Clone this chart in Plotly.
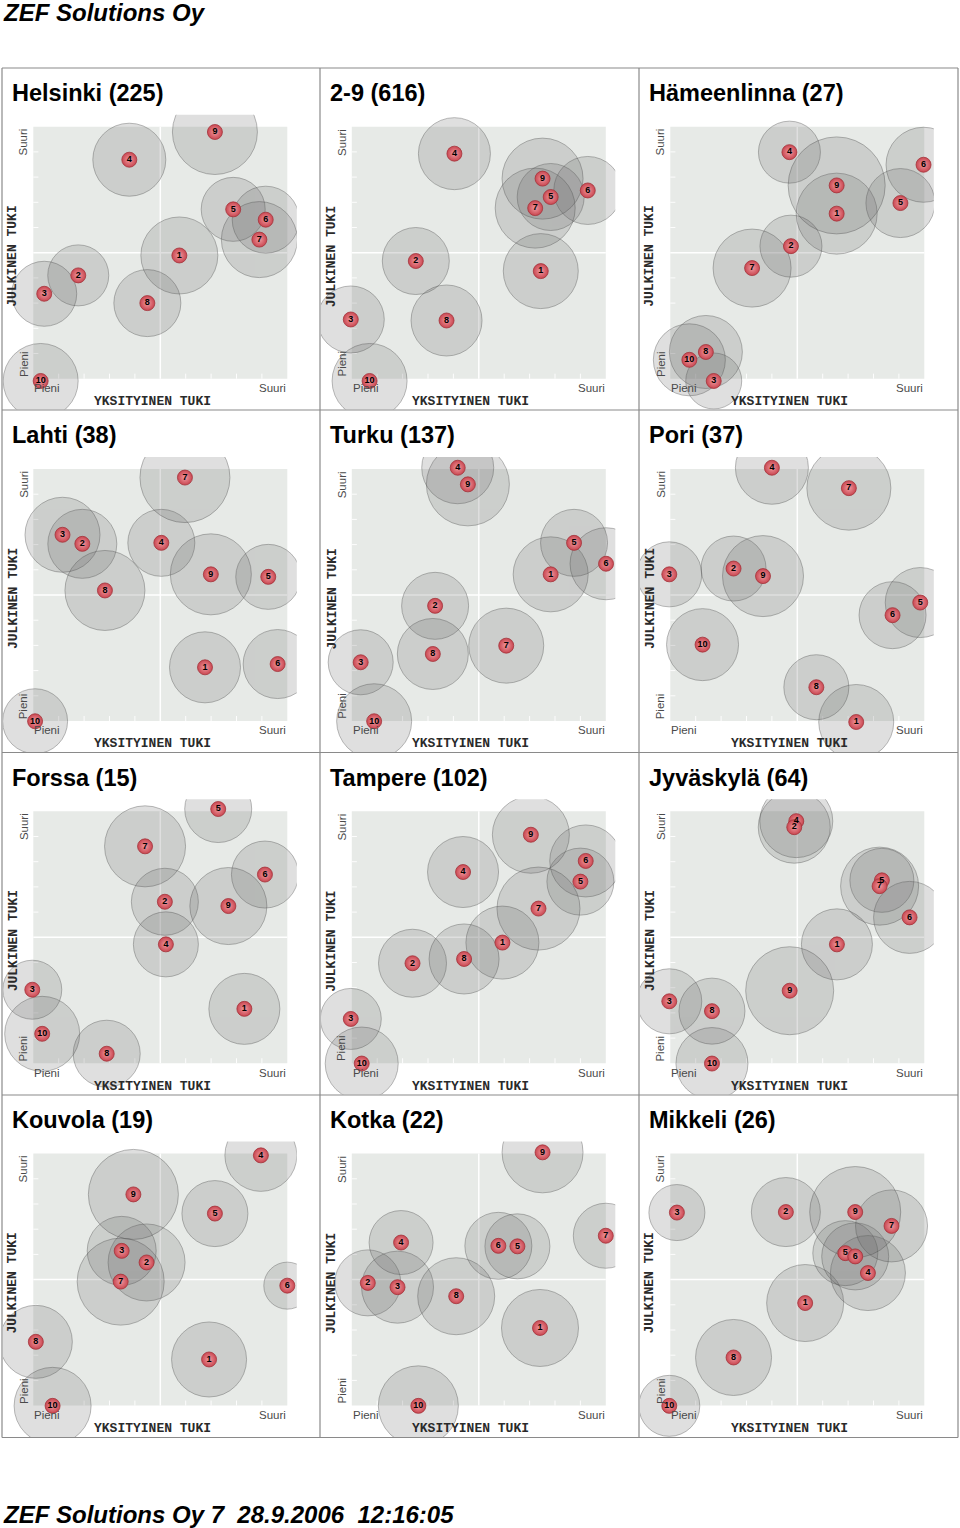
import plotly.graph_objects as go

W, H = 960, 1528

# ---------------- data ----------------
titles = ["Helsinki (225)", "2-9 (616)", "Hämeenlinna (27)",
          "Lahti (38)", "Turku (137)", "Pori (37)",
          "Forssa (15)", "Tampere (102)", "Jyväskylä (64)",
          "Kouvola (19)", "Kotka (22)", "Mikkeli (26)"]

ids = ["1", "2", "3", "4", "5", "6", "7", "8", "9", "10"]

# x = YKSITYINEN TUKI (0..10), y = JULKINEN TUKI (0..10), size = bubble size
helsinki_x = [5.75, 1.77, 0.43, 3.78, 7.87, 9.15, 8.90, 4.49, 7.15, 0.29]
helsinki_y = [4.89, 4.10, 3.37, 8.69, 6.72, 6.31, 5.52, 3.00, 9.79, -0.09]
helsinki_s = [77, 61, 65, 73, 64, 67, 76, 67, 85, 75]

k29_x = [7.44, 2.52, -0.04, 4.04, 7.83, 9.29, 7.22, 3.73, 7.51, 0.70]
k29_y = [4.27, 4.67, 2.35, 8.93, 7.21, 7.47, 6.77, 2.31, 7.94, -0.09]
k29_s = [75, 67, 67, 72, 67, 68, 80, 71, 81, 75]

hameenlinna_x = [6.55, 4.75, 1.71, 4.69, 9.06, 9.97, 3.22, 1.40, 6.55, 0.75]
hameenlinna_y = [6.55, 5.26, -0.09, 8.99, 6.97, 8.49, 4.39, 1.06, 7.67, 0.75]
hameenlinna_s = [81, 62, 56, 62, 69, 75, 78, 73, 97, 72]

lahti_x = [6.76, 1.93, 1.15, 5.04, 9.25, 9.62, 5.97, 2.82, 6.99, 0.07]
lahti_y = [2.13, 7.03, 7.39, 7.07, 5.72, 2.26, 9.66, 5.18, 5.82, -0.01]
lahti_s = [71, 69, 75, 67, 65, 69, 90, 80, 81, 65]

turku_x = [7.83, 3.28, 0.35, 4.17, 8.75, 10.01, 6.08, 3.19, 4.57, 0.88]
turku_y = [5.82, 4.57, 2.33, 10.05, 7.07, 6.24, 2.99, 2.66, 9.39, -0.01]
turku_s = [75, 67, 65, 72, 67, 72, 75, 71, 83, 75]

pori_x = [7.32, 2.49, -0.04, 4.00, 9.84, 8.75, 7.03, 5.75, 3.65, 1.27]
pori_y = [-0.04, 6.05, 5.82, 10.05, 4.70, 4.20, 9.24, 1.34, 5.75, 3.03]
pori_s = [75, 65, 65, 73, 70, 67, 84, 65, 81, 72]

forssa_x = [8.31, 5.18, -0.04, 5.22, 7.28, 9.12, 4.40, 2.89, 7.68, 0.35]
forssa_y = [2.16, 6.41, 2.92, 4.72, 10.09, 7.49, 8.61, 0.38, 6.24, 1.17]
forssa_s = [71, 67, 59, 65, 67, 67, 81, 67, 77, 75]

tampere_x = [5.93, 2.39, -0.04, 4.38, 9.00, 9.21, 7.35, 4.42, 7.05, 0.39]
tampere_y = [4.79, 3.97, 1.76, 7.59, 7.21, 8.03, 6.14, 4.14, 9.07, -0.01]
tampere_s = [73, 68, 61, 71, 67, 72, 83, 70, 77, 73]

jyvaskyla_x = [6.56, 4.88, -0.04, 4.96, 8.33, 9.42, 8.24, 1.64, 4.70, 1.64]
jyvaskyla_y = [4.72, 9.37, 2.46, 9.61, 7.26, 5.79, 7.03, 2.07, 2.88, -0.01]
jyvaskyla_s = [71, 72, 65, 73, 64, 72, 78, 66, 88, 72]

kouvola_x = [6.92, 4.46, 3.48, 8.96, 7.15, 10.00, 3.44, 0.10, 3.94, 0.76]
kouvola_y = [1.83, 5.68, 6.14, 9.93, 7.62, 4.76, 4.92, 2.53, 8.38, -0.01]
kouvola_s = [75, 77, 69, 72, 66, 47, 87, 73, 90, 77]

kotka_x = [7.41, 0.63, 1.80, 1.94, 6.52, 5.77, 10.00, 4.11, 7.51, 2.62]
kotka_y = [3.08, 4.87, 4.70, 6.47, 6.32, 6.34, 6.74, 4.34, 10.05, -0.01]
kotka_s = [77, 66, 72, 64, 65, 67, 65, 77, 81, 80]

mikkeli_x = [5.31, 4.55, 0.26, 7.78, 6.89, 7.28, 8.71, 2.49, 7.28, -0.04]
mikkeli_y = [4.07, 7.68, 7.66, 5.26, 6.05, 5.92, 7.13, 1.91, 7.68, -0.01]
mikkeli_s = [77, 69, 56, 75, 65, 67, 72, 76, 91, 61]

panels_x = [helsinki_x, k29_x, hameenlinna_x, lahti_x, turku_x, pori_x,
            forssa_x, tampere_x, jyvaskyla_x, kouvola_x, kotka_x, mikkeli_x]
panels_y = [helsinki_y, k29_y, hameenlinna_y, lahti_y, turku_y, pori_y,
            forssa_y, tampere_y, jyvaskyla_y, kouvola_y, kotka_y, mikkeli_y]
panels_s = [helsinki_s, k29_s, hameenlinna_s, lahti_s, turku_s, pori_s,
            forssa_s, tampere_s, jyvaskyla_s, kouvola_s, kotka_s, mikkeli_s]

# dots drawn first (hidden behind others)
draw_first = {"Jyväskylä (64)": ["4", "5"]}

header_text = "ZEF Solutions Oy"
footer_text = "ZEF Solutions Oy 7\u00a0\u00a028.9.2006\u00a0\u00a012:16:05"

# ---------------- geometry ----------------
COL_GX = [33.3, 351.8, 670.3]          # gray area left edge (px)
ROW_GY = [126.7, 469.0, 811.3, 1153.6]  # gray area top edge (px)
COL_L = [2, 320, 639, 958]              # panel borders (px)
ROW_T = [68, 410, 752.5, 1095, 1437.5]
GW, GH = 254.0, 252.0
UX, UY = GW / 10, GH / 10

GRAY = "#e7eae7"
LABEL_C = "#4a4a4a"

fig = go.Figure()
shapes = []
annotations = []


def px(x):
    return x / W


def py(y):
    return 1 - y / H


for k, title in enumerate(titles):
    r, c = divmod(k, 3)
    n = "" if k == 0 else str(k + 1)
    gl, gt = COL_GX[c], ROW_GY[r]
    gb = gt + GH
    clipL = COL_L[c] + 1
    clipR = gl + GW + 9.5
    clipT = gt - 12
    clipB = ROW_T[r + 1] - 0.5
    xr = [(clipL - gl) / UX, (clipR - gl) / UX]
    yr = [(gb - clipB) / UY, (gb - clipT) / UY]
    ax = dict(range=xr, domain=[px(clipL), px(clipR)], visible=False,
              showgrid=False, zeroline=False, fixedrange=True,
              anchor="y" + n)
    ay = dict(range=yr, domain=[py(clipB), py(clipT)], visible=False,
              showgrid=False, zeroline=False, fixedrange=True,
              anchor="x" + n)
    fig.update_layout({"xaxis" + n: ax, "yaxis" + n: ay})

    xref, yref = "x" + n, "y" + n
    shapes.append(dict(type="rect", xref=xref, yref=yref, x0=0, x1=10, y0=0, y1=10,
                       fillcolor=GRAY, line=dict(width=0), layer="below"))
    shapes.append(dict(type="line", xref=xref, yref=yref, x0=5, x1=5, y0=0, y1=10,
                       line=dict(color="white", width=1.5), layer="below"))
    shapes.append(dict(type="line", xref=xref, yref=yref, x0=0, x1=10, y0=5, y1=5,
                       line=dict(color="white", width=1.5), layer="below"))
    for t in range(1, 10):
        if t == 5:
            continue
        shapes.append(dict(type="line", xref=xref, yref=yref, x0=t, x1=t, y0=0, y1=0.2,
                           line=dict(color="rgba(255,255,255,0.9)", width=1), layer="below"))
        shapes.append(dict(type="line", xref=xref, yref=yref, x0=0, x1=0.2, y0=t, y1=t,
                           line=dict(color="rgba(255,255,255,0.9)", width=1), layer="below"))

    xs, ys, ss = panels_x[k], panels_y[k], panels_s[k]
    fig.add_trace(go.Scatter(
        x=xs, y=ys, mode="markers", xaxis=xref, yaxis=yref,
        marker=dict(size=ss, sizemode="diameter", color="rgba(100,100,100,0.29)",
                    line=dict(color="rgba(75,75,75,0.55)", width=1)),
        hoverinfo="skip", showlegend=False, cliponaxis=True))

    first = draw_first.get(title, [])
    order = [ids.index(f) for f in first] + [i for i in range(len(ids)) if ids[i] not in first]
    fig.add_trace(go.Scatter(
        x=[xs[i] for i in order], y=[ys[i] for i in order],
        text=[ids[i] for i in order], mode="markers+text",
        xaxis=xref, yaxis=yref, textposition="middle center",
        textfont=dict(family="Liberation Sans, Arial", size=9, color="black", weight="bold"),
        marker=dict(size=15, color="#c94650",
                    gradient=dict(type="radial", color="#f09aa0"),
                    line=dict(color="#a3343b", width=0.8)),
        hoverinfo="skip", showlegend=False, cliponaxis=True))

    # texts
    annotations.append(dict(x=px(COL_L[c] + 8), y=py(ROW_T[r] + 25), xref="paper", yref="paper",
                            text="<b>" + title + "</b>", showarrow=False,
                            xanchor="left", yanchor="middle",
                            font=dict(family="Liberation Sans, Arial", size=23.5, color="black")))
    small = dict(family="Liberation Sans, Arial", size=11.5, color=LABEL_C)
    mono = dict(family="Liberation Mono, Courier New", size=13, color="#2a2a2a")
    annotations.append(dict(x=px(gl - 10), y=py(gt), xref="paper", yref="paper", text="Suuri",
                            textangle=-90, showarrow=False, xanchor="center", yanchor="top", font=small))
    annotations.append(dict(x=px(gl - 10), y=py(gb), xref="paper", yref="paper", text="Pieni",
                            textangle=-90, showarrow=False, xanchor="center", yanchor="bottom", font=small))
    annotations.append(dict(x=px(gl - 20.3), y=py(gt + GH / 2 + 4), xref="paper", yref="paper",
                            text="<b>JULKINEN TUKI</b>", textangle=-90, showarrow=False,
                            xanchor="center", yanchor="middle", font=mono))
    annotations.append(dict(x=px(gl - 1), y=py(gb + 9.3), xref="paper", yref="paper", text="Pieni",
                            showarrow=False, xanchor="left", yanchor="middle", font=small))
    annotations.append(dict(x=px(gl + GW + 1), y=py(gb + 9.3), xref="paper", yref="paper", text="Suuri",
                            showarrow=False, xanchor="right", yanchor="middle", font=small))
    annotations.append(dict(x=px(gl + GW / 2 - 8), y=py(gb + 22.7), xref="paper", yref="paper",
                            text="<b>YKSITYINEN TUKI</b>", showarrow=False,
                            xanchor="center", yanchor="middle", font=mono))

# panel borders
BORDER = dict(color="#8a8a8a", width=1.2)
for xv in COL_L:
    shapes.append(dict(type="line", xref="paper", yref="paper", x0=px(xv), x1=px(xv),
                       y0=py(ROW_T[0]), y1=py(ROW_T[-1]), line=BORDER))
for yv in ROW_T:
    shapes.append(dict(type="line", xref="paper", yref="paper", x0=px(COL_L[0]), x1=px(COL_L[-1]),
                       y0=py(yv), y1=py(yv), line=BORDER))

hf = dict(family="Liberation Sans, Arial", size=24, color="black")
annotations.append(dict(x=px(1), y=py(12), xref="paper", yref="paper",
                        text="<b><i>" + header_text + "</i></b>", showarrow=False,
                        xanchor="left", yanchor="middle", font=hf))
annotations.append(dict(x=px(1), y=py(1514), xref="paper", yref="paper",
                        text="<b><i>" + footer_text + "</i></b>", showarrow=False,
                        xanchor="left", yanchor="middle", font=hf))

fig.update_layout(width=W, height=H, margin=dict(l=0, r=0, t=0, b=0),
                  paper_bgcolor="white", plot_bgcolor="white",
                  shapes=shapes, annotations=annotations, showlegend=False)

fig.write_html("out.html", config={"displayModeBar": False},
               post_script="document.body.style.margin='0';document.body.style.padding='0';")
